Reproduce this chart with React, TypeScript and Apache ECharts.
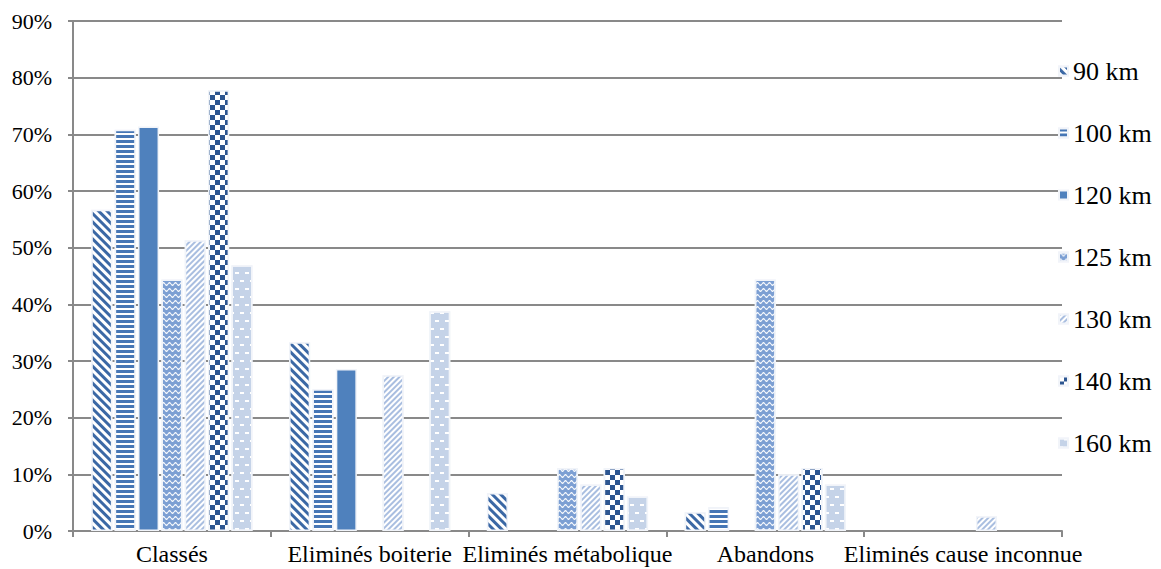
import React, { useEffect, useRef } from "react";
import * as echarts from "echarts";

// Categories on the x axis
const categories = [
  "Classés",
  "Eliminés boiterie",
  "Eliminés métabolique",
  "Abandons",
  "Eliminés cause inconnue",
];

// Share of horses (%) per outcome, one array per race distance
const km90 = [56.7, 33.3, 6.7, 3.3, null];
const km100 = [70.8, 25.0, null, 4.2, null];
const km120 = [71.4, 28.6, null, null, null];
const km125 = [44.4, null, 11.1, 44.4, null];
const km130 = [51.3, 27.5, 8.2, 10.0, 2.6];
const km140 = [77.8, null, 11.1, 11.1, null];
const km160 = [46.9, 38.8, 6.1, 8.2, null];

const seriesNames = ["90 km", "100 km", "120 km", "125 km", "130 km", "140 km", "160 km"];
const seriesValues = [km90, km100, km120, km125, km130, km140, km160];

// Y axis range (percent)
const yMin = 0;
const yMax = 90;
const yStep = 10;

const FONT = "Liberation Serif";
const AXIS_GRAY = "#898989";

// Fill and hatch pattern for each distance
const wavePath =
  "path://M0,2 C2,0 4,0 6,2 C8,4 10,4 12,2 L12,4 C10,6 8,6 6,4 C4,2 2,2 0,4 Z";

const seriesStyles: any[] = [
  {
    color: "#ffffff",
    decal: {
      symbol: "rect",
      symbolSize: 1,
      symbolKeepAspect: false,
      color: "#3b68a5",
      backgroundColor: null,
      dashArrayX: [1, 0],
      dashArrayY: [2.6, 2.6],
      rotation: Math.PI / 4,
    },
  },
  {
    color: "#ffffff",
    decal: {
      symbol: "rect",
      symbolSize: 1,
      symbolKeepAspect: false,
      color: "#4676b5",
      backgroundColor: null,
      dashArrayX: [1, 0],
      dashArrayY: [2.7, 2],
      rotation: 0,
    },
  },
  { color: "#4f81bd", decal: "none" },
  {
    color: "#7c9fd3",
    decal: {
      symbol: wavePath,
      symbolSize: 1,
      symbolKeepAspect: false,
      color: "#ffffff",
      backgroundColor: null,
      dashArrayX: [6, 0],
      dashArrayY: [3.5, 1.8],
      rotation: 0,
    },
  },
  {
    color: "#ffffff",
    decal: {
      symbol: "rect",
      symbolSize: 1,
      symbolKeepAspect: false,
      color: "#a9bee0",
      backgroundColor: null,
      dashArrayX: [1, 0],
      dashArrayY: [2, 2],
      rotation: -Math.PI / 4,
    },
  },
  {
    color: "#ffffff",
    decal: {
      symbol: "rect",
      symbolSize: 1,
      symbolKeepAspect: false,
      color: "#2c5590",
      backgroundColor: null,
      dashArrayX: [
        [5, 5],
        [0, 5, 5, 0],
      ],
      dashArrayY: [5, 0],
      rotation: 0,
    },
  },
  {
    color: "#c5d3e8",
    decal: {
      symbol: "rect",
      symbolSize: 1,
      symbolKeepAspect: false,
      color: "#ffffff",
      backgroundColor: null,
      dashArrayX: [
        [4, 6],
        [0, 5, 4, 1],
      ],
      dashArrayY: [1.6, 5.5],
      rotation: 0,
    },
  },
];

export default function App() {
  const ref = useRef<HTMLDivElement>(null);

  useEffect(() => {
    if (!ref.current) return;
    const chart = echarts.init(ref.current, undefined, { renderer: "svg" });

    const series = seriesNames.map((name, i) => ({
      name,
      type: "bar",
      data: seriesValues[i],
      barCategoryGap: "18.5%",
      barGap: "11%",
      itemStyle: {
        ...seriesStyles[i],
        borderColor: "#f1f4f9",
        borderWidth: 1.5,
      },
    }));

    chart.setOption({
      animation: false,
      backgroundColor: "#ffffff",
      grid: { left: 73, right: 99, top: 21, bottom: 38, containLabel: false },
      legend: {
        orient: "vertical",
        left: 1053,
        top: 53,
        itemWidth: 9,
        itemHeight: 9,
        itemGap: 36,
        icon: "rect",
        data: seriesNames,
        textStyle: {
          fontFamily: FONT,
          fontSize: 26,
          lineHeight: 26,
          color: "#000",
        },
      },
      xAxis: {
        type: "category",
        data: categories,
        boundaryGap: true,
        axisLine: { show: true, lineStyle: { color: AXIS_GRAY, width: 2 } },
        axisTick: {
          show: true,
          interval: 0,
          length: 6,
          lineStyle: { color: AXIS_GRAY, width: 2 },
        },
        axisLabel: {
          interval: 0,
          margin: 11,
          fontFamily: FONT,
          fontSize: 24,
          color: "#000",
        },
      },
      yAxis: {
        type: "value",
        min: yMin,
        max: yMax,
        interval: yStep,
        axisLine: { show: true, lineStyle: { color: AXIS_GRAY, width: 2 } },
        axisTick: { show: true, length: 5, lineStyle: { color: AXIS_GRAY, width: 2 } },
        splitLine: { show: true, lineStyle: { color: AXIS_GRAY, width: 2 } },
        axisLabel: {
          margin: 21,
          fontFamily: FONT,
          fontSize: 22,
          color: "#000",
          formatter: "{value}%",
        },
      },
      series,
    });

    return () => {
      chart.dispose();
    };
  }, []);

  return (
    <div
      ref={ref}
      style={{ position: "fixed", left: 0, top: 0, width: 1161, height: 569, background: "#fff" }}
    />
  );
}
